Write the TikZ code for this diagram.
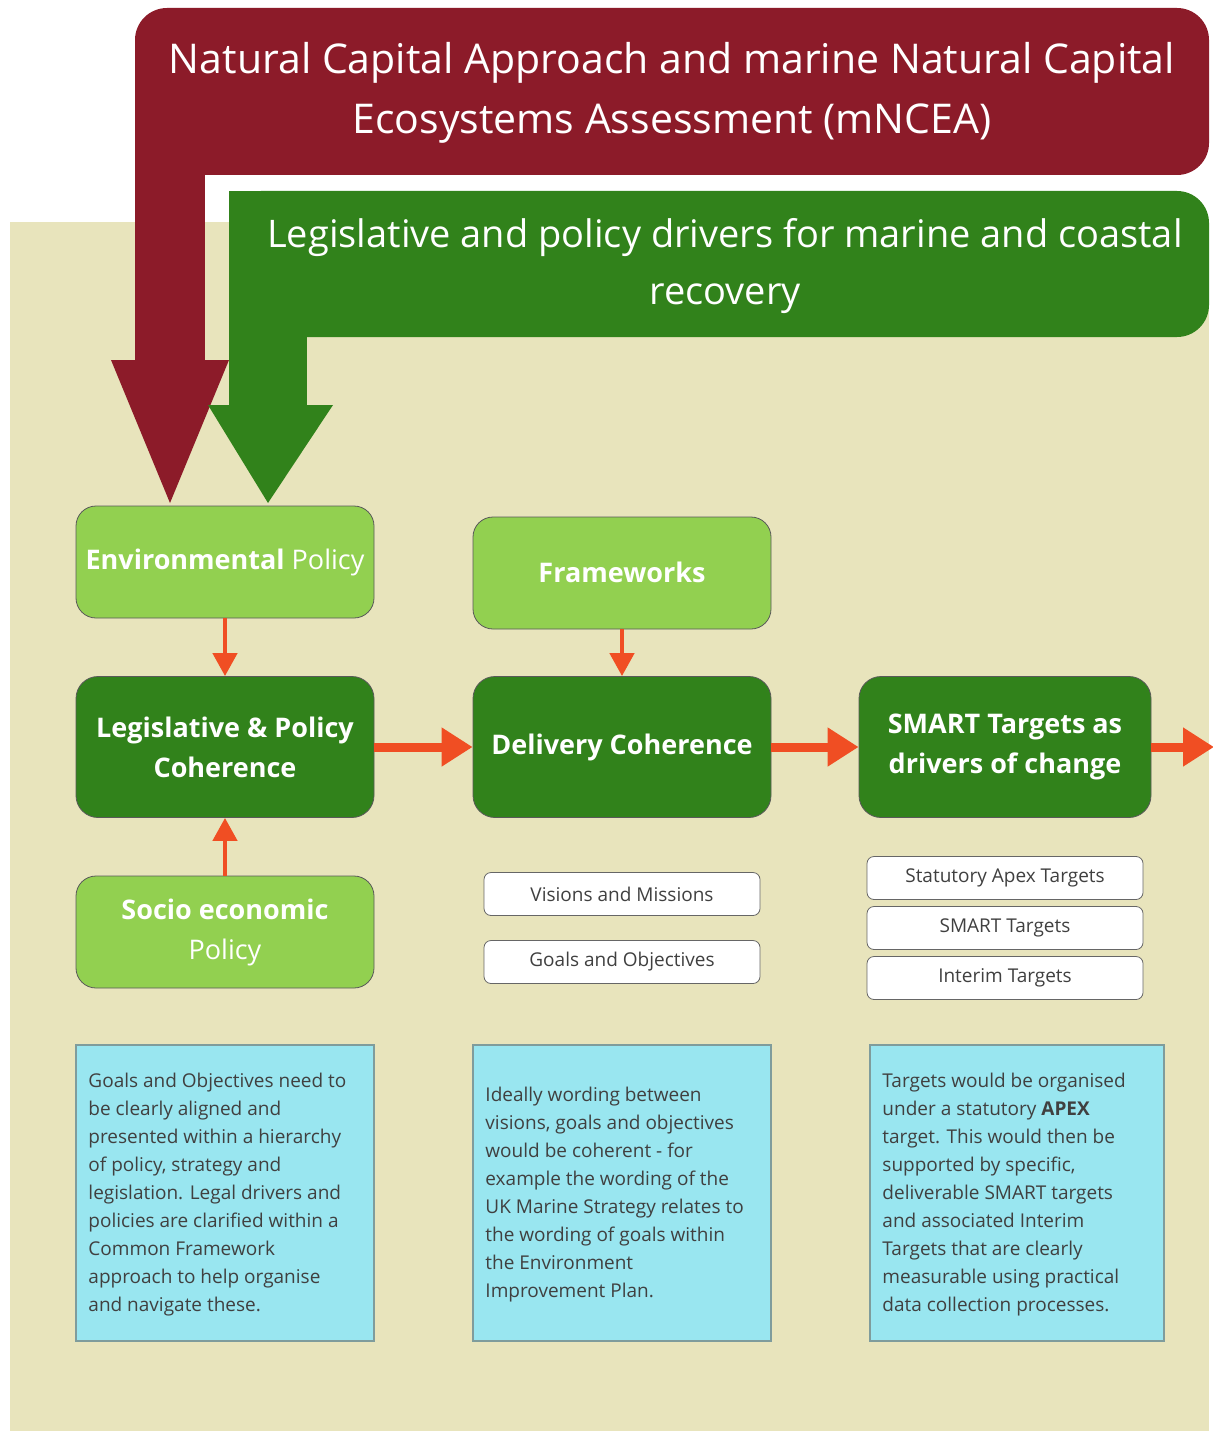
\documentclass[tikz,border=0pt]{standalone}
\usepackage{fontspec}
\setmainfont{Open Sans}
\usetikzlibrary{arrows.meta}
\definecolor{ncred}{HTML}{8C1B29}
\definecolor{drvgreen}{HTML}{31821B}
\definecolor{lightgreen}{HTML}{92D050}
\definecolor{panelbeige}{HTML}{E8E4BC}
\definecolor{notecyan}{HTML}{99E6F0}
\definecolor{noteedge}{HTML}{7F9C9C}
\definecolor{flowred}{HTML}{F04E23}
\definecolor{bodygray}{HTML}{404040}
\tikzset{
  lightbox/.style={draw=black!65, line width=0.8pt, fill=lightgreen, rounded corners=20pt,
    minimum width=298pt, minimum height=112pt, text=white, align=center,
    font=\fontsize{27}{40}\selectfont, inner sep=0pt},
  darkbox/.style={draw=black!65, line width=0.8pt, fill=drvgreen, rounded corners=22pt,
    minimum width=298pt, minimum height=141pt, text=white, align=center,
    font=\fontsize{27}{40}\selectfont\bfseries, inner sep=0pt},
  tagbox/.style={draw=black!60, line width=0.8pt, fill=white, rounded corners=7pt,
    minimum width=276pt, minimum height=43pt, text=bodygray, align=center,
    font=\fontsize{19}{24}\selectfont, inner sep=0pt},
  notebox/.style={draw=noteedge, line width=1.5pt, fill=notecyan,
    minimum width=298pt, minimum height=296pt, inner sep=0pt},
  notetext/.style={anchor=west, text=bodygray, align=left, inner sep=0pt,
    font=\fontsize{19}{28}\selectfont},
  thinflow/.style={draw=flowred, line width=4.5pt, -{Triangle[length=23pt,width=24pt]}},
  thickflow/.style={draw=flowred, line width=9pt, -{Triangle[length=31pt,width=37pt]}},
  headline/.style={text=white, align=center, inner sep=0pt}
}
\begin{document}
\begin{tikzpicture}[x=1pt,y=-1pt]
\useasboundingbox (0,0) rectangle (1212,1431);
\fill[white] (0,0) rectangle (1212,1431);
% beige panel behind the flow
\fill[panelbeige] (10,222) rectangle (1209,1431);

% red banner with its downward arrow
\fill[ncred, rounded corners=32pt] (135,8) rectangle (1209,175);
\fill[ncred] (135,70) rectangle (205,361);
\fill[ncred] (111,360) -- (229,360) -- (170,503) -- cycle;
\node[headline, font=\fontsize{41}{60}\selectfont] (ncea) at (672,93)
  {Natural Capital Approach and marine Natural Capital\\Ecosystems Assessment (mNCEA)};

% green banner with its downward arrow
\fill[drvgreen, rounded corners=32pt] (229,191) rectangle (1209,337);
\fill[drvgreen] (229,191) rectangle (307,406);
\fill[drvgreen] (208,405) -- (333,405) -- (268,503) -- cycle;
\node[headline, font=\fontsize{38}{57}\selectfont] (drivers) at (725,266)
  {Legislative and policy drivers for marine and coastal\\recovery};

% main flow boxes
\node[lightbox] (env) at (225,562) {\textbf{Environmental} Policy};
\node[darkbox] (leg) at (225,747) {Legislative \& Policy\\Coherence};
\node[lightbox] (socio) at (225,932) {\textbf{Socio economic}\\Policy};
\node[lightbox, font=\fontsize{27}{40}\selectfont\bfseries] (frame) at (622,573) {\raisebox{2pt}{Frameworks}};
\node[darkbox] (deliv) at (622,747) {Delivery Coherence};
\node[darkbox, minimum width=292pt] (smart) at (1005,747) {SMART Targets as\\drivers of change};
\coordinate (onward) at (1214,747);

% tag boxes
\node[tagbox] (vis) at (622,894) {Visions and Missions};
\node[tagbox] (goals) at (622,962) {Goals and Objectives};
\node[tagbox] (apex) at (1005,878) {Statutory Apex Targets};
\node[tagbox] (smt) at (1005,928) {SMART Targets};
\node[tagbox] (interim) at (1005,978) {Interim Targets};

% connectors
\draw[thinflow] (env) -- (leg);
\draw[thinflow] (socio) -- (leg);
\draw[thinflow] (frame) -- (deliv);
\draw[thickflow] (leg) -- (deliv);
\draw[thickflow] (deliv) -- (smart);
\draw[thickflow] (smart) -- (onward);

% explanatory notes
\node[notebox] (noteL) at (225,1193) {};
\node[notetext] (textL) at ([xshift=13pt,yshift=-2pt]noteL.west)
  {Goals and Objectives need to\\be clearly aligned and\\presented within a hierarchy\\of policy, strategy and\\legislation. Legal drivers and\\policies are clarified within a\\Common Framework\\approach to help organise\\and navigate these.};
\node[notebox] (noteM) at (622,1193) {};
\node[notetext] (textM) at ([xshift=13pt,yshift=-2pt]noteM.west)
  {Ideally wording between\\visions, goals and objectives\\would be coherent - for\\example the wording of the\\UK Marine Strategy relates to\\the wording of goals within\\the Environment\\Improvement Plan.};
\node[notebox, minimum width=294pt] (noteR) at (1017,1193) {};
\node[notetext] (textR) at ([xshift=13pt,yshift=-2pt]noteR.west)
  {Targets would be organised\\under a statutory \textbf{APEX}\\target. This would then be\\supported by specific,\\deliverable SMART targets\\and associated Interim\\Targets that are clearly\\measurable using practical\\data collection processes.};
\end{tikzpicture}
\end{document}
